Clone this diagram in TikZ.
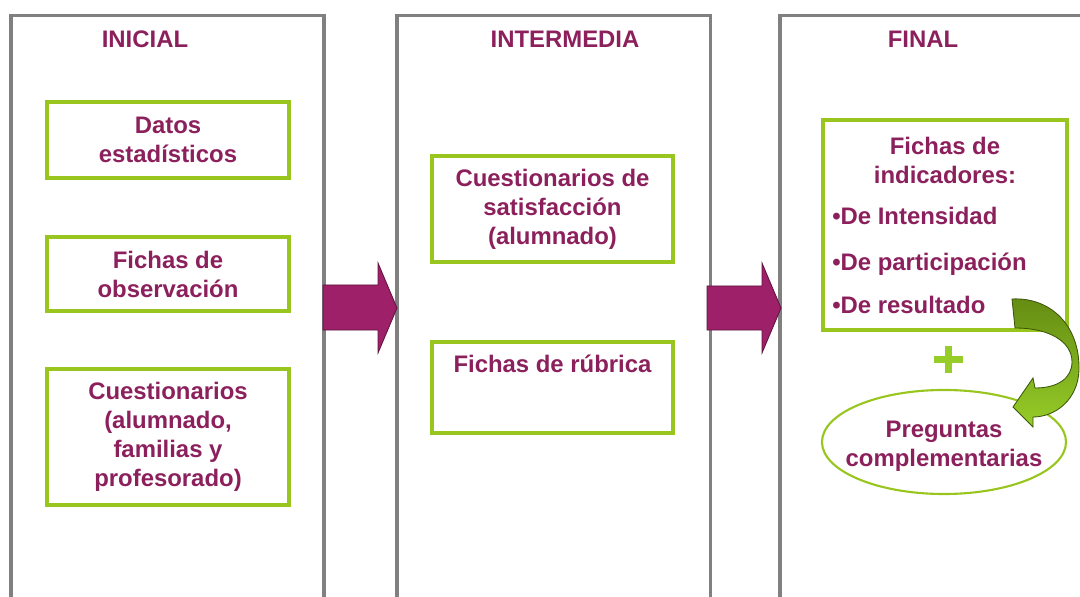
\documentclass[tikz,border=0pt]{standalone}
\usepackage{fontspec}
\setmainfont{Liberation Sans}
\usetikzlibrary{shapes.geometric}
\definecolor{textofase}{RGB}{140,32,92}
\definecolor{lineagris}{RGB}{128,128,128}
\definecolor{verdecaja}{RGB}{153,198,30}
\definecolor{flechamorada}{RGB}{158,32,104}
\definecolor{bordemorado}{RGB}{95,20,62}
\definecolor{verdeoscuro}{RGB}{100,140,18}
\definecolor{verdeclaro}{RGB}{150,205,40}
\definecolor{bordeverde}{RGB}{60,85,12}
\begin{document}
\begin{tikzpicture}[x=0.025cm,y=-0.025cm,
 columna/.style={draw=lineagris,line width=2.2pt,minimum width=7.825cm,minimum height=15.65cm,anchor=north,inner sep=0},
 titulo/.style={text=textofase,anchor=base,font=\fontsize{17}{20}\selectfont\bfseries},
 caja/.style={draw=verdecaja,line width=2.2pt,minimum width=6.05cm,inner sep=0,text=textofase,align=center,font=\fontsize{17}{20.6}\selectfont\bfseries},
 texto/.style={text=textofase,inner sep=0,align=center,font=\fontsize{17}{20.6}\selectfont\bfseries},
 flecha/.style={fill=flechamorada,draw=bordemorado,line width=0.6pt}]
 \useasboundingbox (0,0) rectangle (1080,597);
 \clip (0,0) rectangle (1080,597);
 % columnas
 \node[columna] (ini) at (167.5,14) {};
 \node[columna] (inter) at (553.5,14) {};
 \node[columna] (fin) at (936.5,14) {};
 \node[titulo] (tini) at (145,48) {INICIAL};
 \node[titulo] (tinter) at (565,48) {INTERMEDIA};
 \node[titulo] (tfin) at (923,48) {FINAL};
 % inicial
 \node[caja,minimum height=1.9cm] (datos) at (168,140) {Datos\\estadísticos};
 \node[caja,minimum height=1.85cm] (obs) at (168,274) {Fichas de\\observación};
 \node[caja,minimum height=3.4cm] (cuest) at (168,437) {Cuestionarios\\(alumnado,\\familias y\\profesorado)};
 % intermedia
 \node[caja,minimum width=6.025cm,minimum height=2.65cm] (satis) at (552.5,209) {Cuestionarios de\\satisfacción\\(alumnado)};
 \node[caja,minimum width=6.025cm,minimum height=2.275cm] (rub) at (552.5,387.5) {};
 \node[texto,anchor=base] (rubtxt) at (552.5,372) {Fichas de rúbrica};
 % final
 \node[caja,minimum width=6.1cm,minimum height=5.25cm] (ind) at (945,225) {};
 \node[texto] (indtit) at (945,160) {Fichas de\\indicadores:};
 \node[texto,anchor=base west] (int) at (832,225) {•De Intensidad};
 \node[texto,anchor=base west] (par) at (832,270) {•De participación};
 \node[texto,anchor=base west] (res) at (832,313) {•De resultado};
 \draw[verdeclaro,line width=4.5pt] (934,359.5) -- (963,359.5) (948.5,346) -- (948.5,373);
 \node[ellipse,draw=verdecaja,line width=1.5pt,minimum width=6.1cm,minimum height=2.6cm,inner sep=0] (preg) at (944,442) {};
 \node[texto] (pregtxt) at (944,446) {Preguntas\\complementarias};
 % flechas
 \draw[flecha] (323,285) -- (378,285) -- (378,263) -- (397,308) -- (378,353) -- (378,330) -- (323,330) -- cycle;
 \draw[flecha] (707,286) -- (762,286) -- (762,263) -- (781,308) -- (762,353) -- (762,330) -- (707,330) -- cycle;
 \shade[top color=verdeoscuro,bottom color=verdeclaro,draw=bordeverde,line width=0.6pt]
  (1012,299) .. controls (1050,297) and (1080,325) .. (1079,370)
  .. controls (1078,400) and (1055,417) .. (1033,417) -- (1033,427) -- (1013,407) -- (1033,378) -- (1035,388)
  .. controls (1058,388) and (1072,378) .. (1072,362)
  .. controls (1072,342) and (1050,328) .. (1015,328) -- cycle;
\end{tikzpicture}
\end{document}
